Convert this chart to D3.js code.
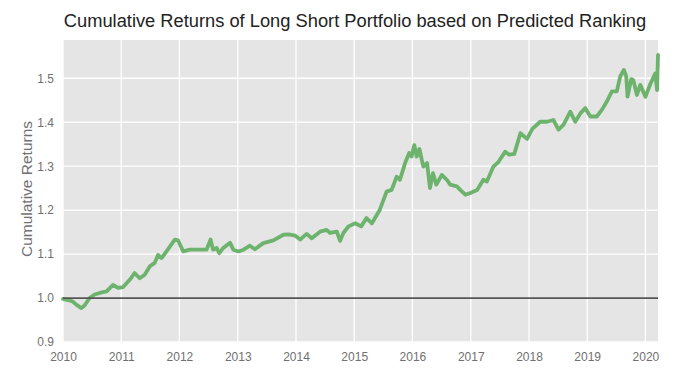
<!DOCTYPE html>
<html>
<head>
<meta charset="utf-8">
<script src="https://cdn.jsdelivr.net/npm/d3@7"></script>
<style>
  body { margin: 0; background: #fff; }
  text { font-family: "Liberation Sans", Arial, Helvetica, sans-serif; }
</style>
</head>
<body>
<div id="chart"></div>
<script>
const WIDTH = 700;
const HEIGHT = 384;
const MARGIN = { top: 40, right: 42, bottom: 42, left: 63 };

const INNER_WIDTH = WIDTH - MARGIN.left - MARGIN.right;
const INNER_HEIGHT = HEIGHT - MARGIN.top - MARGIN.bottom;

const TITLE = "Cumulative Returns of Long Short Portfolio based on Predicted Ranking";
const Y_LABEL = "Cumulative Returns";

const dates = [
    "2010-01-01", "2010-02-14", "2010-03-04", "2010-03-25", "2010-04-26", "2010-05-16",
    "2010-06-17", "2010-07-18", "2010-09-01", "2010-10-01", "2010-11-11", "2010-12-12",
    "2011-01-13", "2011-02-25", "2011-03-26", "2011-04-27", "2011-05-28", "2011-06-29",
    "2011-07-30", "2011-08-20", "2011-09-11", "2011-10-12", "2011-12-03", "2011-12-24",
    "2012-01-25", "2012-03-06", "2012-05-08", "2012-06-19", "2012-07-14", "2012-07-30",
    "2012-08-21", "2012-09-07", "2012-10-02", "2012-11-13", "2012-12-04", "2013-01-05",
    "2013-02-06", "2013-03-18", "2013-04-18", "2013-06-10", "2013-08-12", "2013-10-14",
    "2013-11-15", "2013-12-26", "2014-01-27", "2014-03-09", "2014-04-10", "2014-06-01",
    "2014-07-12", "2014-08-03", "2014-09-14", "2014-10-04", "2014-10-25", "2014-11-26",
    "2015-01-07", "2015-02-14", "2015-03-19", "2015-04-22", "2015-06-11", "2015-07-23",
    "2015-08-24", "2015-09-24", "2015-10-15", "2015-11-16", "2015-12-12", "2015-12-27",
    "2016-01-13", "2016-01-28", "2016-02-14", "2016-02-29", "2016-03-10", "2016-04-02",
    "2016-04-20", "2016-05-09", "2016-05-30", "2016-07-03", "2016-08-04", "2016-08-25",
    "2016-10-06", "2016-10-27", "2016-11-28", "2016-12-29", "2017-02-10", "2017-03-21",
    "2017-04-12", "2017-05-23", "2017-06-24", "2017-08-05", "2017-08-30", "2017-10-01",
    "2017-11-08", "2017-12-20", "2018-01-22", "2018-03-12", "2018-04-23", "2018-06-03",
    "2018-07-05", "2018-08-05", "2018-09-17", "2018-10-18", "2018-11-19", "2018-12-20",
    "2019-01-21", "2019-03-02", "2019-04-03", "2019-05-04", "2019-06-05", "2019-07-06",
    "2019-07-27", "2019-08-19", "2019-09-03", "2019-09-11", "2019-10-04", "2019-10-17",
    "2019-11-09", "2019-11-30", "2020-01-01", "2020-02-01", "2020-03-03", "2020-03-14",
    "2020-03-20"
];

const returns = [
    0.998, 0.994, 0.992, 0.985, 0.977, 0.983,
    1.000, 1.008, 1.013, 1.015, 1.030, 1.023,
    1.025, 1.042, 1.057, 1.045, 1.053, 1.072,
    1.080, 1.098, 1.091, 1.106, 1.133, 1.131,
    1.106, 1.110, 1.110, 1.110, 1.133, 1.110,
    1.114, 1.102, 1.114, 1.126, 1.110, 1.106,
    1.110, 1.119, 1.111, 1.125, 1.131, 1.144,
    1.145, 1.142, 1.133, 1.146, 1.136, 1.151,
    1.155, 1.148, 1.151, 1.130, 1.148, 1.163,
    1.170, 1.163, 1.182, 1.170, 1.201, 1.242,
    1.246, 1.276, 1.269, 1.307, 1.330, 1.322,
    1.348, 1.322, 1.339, 1.314, 1.299, 1.307,
    1.250, 1.284, 1.258, 1.280, 1.269, 1.258,
    1.254, 1.246, 1.235, 1.239, 1.246, 1.269,
    1.265, 1.299, 1.310, 1.333, 1.326, 1.328,
    1.375, 1.362, 1.385, 1.401, 1.401, 1.405,
    1.383, 1.394, 1.424, 1.401, 1.420, 1.432,
    1.413, 1.413, 1.428, 1.447, 1.470, 1.470,
    1.504, 1.519, 1.504, 1.458, 1.498, 1.496,
    1.462, 1.485, 1.458, 1.487, 1.511, 1.473,
    1.553
];

const yTicks = [0.9, 1.0, 1.1, 1.2, 1.3, 1.4, 1.5];
const xTickYears = [2010, 2011, 2012, 2013, 2014, 2015, 2016, 2017, 2018, 2019, 2020];
const BASELINE = 1.0;

const parseDate = d3.timeParse("%Y-%m-%d");

var translate = function (x, y) {
    return "translate(" + x + "," + y + ")";
};

var drawChart = function () {
    var series = dates.map(function (d, i) {
        return { date: parseDate(d), value: returns[i] };
    });

    var xScale = d3.scaleTime()
        .domain(d3.extent(series, function (d) { return d.date; }))
        .range([0, INNER_WIDTH]);

    var yScale = d3.scaleLinear()
        .domain([0.9, 1.587])
        .range([INNER_HEIGHT, 0]);

    var svg = d3.select('#chart').append('svg')
        .attr('width', WIDTH)
        .attr('height', HEIGHT);

    var g = svg.append('g')
        .attr('transform', translate(MARGIN.left, MARGIN.top));

    g.append('rect')
        .attr('width', INNER_WIDTH)
        .attr('height', INNER_HEIGHT)
        .attr('fill', '#e5e5e5');

    var xTicks = xTickYears.map(function (y) { return new Date(y, 0, 1); });

    // grid
    g.selectAll('.vgrid')
        .data(xTicks)
        .enter()
        .append('line')
        .attr('x1', function (d) { return xScale(d); })
        .attr('x2', function (d) { return xScale(d); })
        .attr('y1', 0)
        .attr('y2', INNER_HEIGHT)
        .attr('stroke', '#fff')
        .attr('stroke-width', 1.3);

    g.selectAll('.hgrid')
        .data(yTicks)
        .enter()
        .append('line')
        .attr('x1', 0)
        .attr('x2', INNER_WIDTH)
        .attr('y1', function (d) { return yScale(d); })
        .attr('y2', function (d) { return yScale(d); })
        .attr('stroke', '#fff')
        .attr('stroke-width', 1.3);

    var line = d3.line()
        .x(function (d) { return xScale(d.date); })
        .y(function (d) { return yScale(d.value); });

    g.append('path')
        .attr('d', line(series))
        .attr('fill', 'none')
        .attr('stroke', '#6db36d')
        .attr('stroke-width', 3.8)
        .attr('stroke-linejoin', 'round')
        .attr('stroke-linecap', 'round');

    g.append('line')
        .attr('x1', 0)
        .attr('x2', INNER_WIDTH)
        .attr('y1', yScale(BASELINE))
        .attr('y2', yScale(BASELINE))
        .attr('stroke', '#555')
        .attr('stroke-width', 1.8);

    // axes
    var xAxis = d3.axisBottom(xScale)
        .tickValues(xTicks)
        .tickFormat(d3.timeFormat('%Y'))
        .tickSize(0)
        .tickPadding(10);

    var yAxis = d3.axisLeft(yScale)
        .tickValues(yTicks)
        .tickFormat(d3.format('.1f'))
        .tickSize(0)
        .tickPadding(9);

    var gx = g.append('g')
        .attr('transform', translate(0, INNER_HEIGHT))
        .call(xAxis);

    var gy = g.append('g')
        .call(yAxis);

    [gx, gy].forEach(function (ax) {
        ax.select('.domain').remove();
        ax.selectAll('text')
            .attr('fill', '#707070')
            .style('font-size', '12px');
    });

    var labelY = MARGIN.top + INNER_HEIGHT / 2 - 2;
    svg.append('text')
        .attr('x', 32)
        .attr('y', labelY)
        .attr('transform', 'rotate(-90,32,' + labelY + ')')
        .attr('text-anchor', 'middle')
        .attr('fill', '#707070')
        .style('font-size', '15.5px')
        .text(Y_LABEL);

    svg.append('text')
        .attr('x', 355)
        .attr('y', 27)
        .attr('text-anchor', 'middle')
        .attr('fill', '#222')
        .style('font-size', '18.3px')
        .text(TITLE);
};

window.onload = drawChart;
</script>
</body>
</html>
